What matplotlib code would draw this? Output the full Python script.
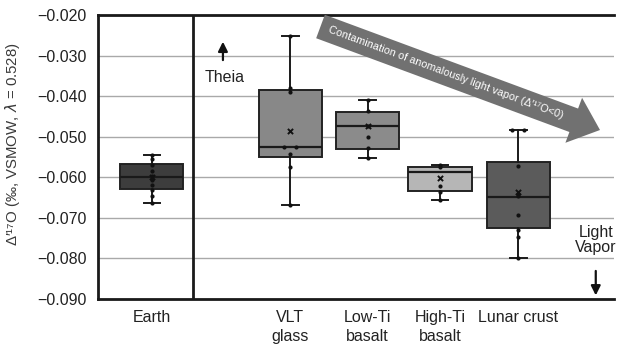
import matplotlib
matplotlib.use('Agg')
import matplotlib.pyplot as plt
from matplotlib.patches import FancyArrow
import numpy as np

plt.rcParams['font.family'] = ['Liberation Sans', 'DejaVu Sans']

# box statistics
groups = ['Earth', 'VLT\nglass', 'Low-Ti\nbasalt', 'High-Ti\nbasalt', 'Lunar crust']
q1 = [-0.0629, -0.0551, -0.0531, -0.0635, -0.0724]
q3 = [-0.0567, -0.0386, -0.0438, -0.0575, -0.0563]
med = [-0.0599, -0.0526, -0.0473, -0.0587, -0.0648]
whislo = [-0.0663, -0.0668, -0.0552, -0.0657, -0.0798]
whishi = [-0.0545, -0.0252, -0.0410, -0.0570, -0.0483]
means = [-0.0600, -0.0486, -0.0473, -0.0601, -0.0637]

# individual samples
earth_pts = [-0.0545, -0.0556, -0.0570, -0.0584, -0.0596, -0.0606, -0.0618, -0.0631, -0.0646, -0.0663]
vlt_pts = [-0.0252, -0.0380, -0.0389, -0.0526, -0.0526, -0.0543, -0.0574, -0.0668]
vlt_dx = [0, 0, 0, -0.08, 0.08, 0, 0, 0]
lowti_pts = [-0.0410, -0.0437, -0.0473, -0.0500, -0.0529, -0.0552]
highti_pts = [-0.0570, -0.0574, -0.0621, -0.0637, -0.0657]
crust_pts = [-0.0483, -0.0483, -0.0572, -0.0640, -0.0645, -0.0694, -0.0730, -0.0748, -0.0798]
crust_dx = [-0.08, 0.08, 0, 0, 0, 0, 0, 0, 0]

yticks = [-0.090, -0.080, -0.070, -0.060, -0.050, -0.040, -0.030, -0.020]

# layout
pos = [0, 1.82, 2.84, 3.79, 4.82]
face = ['#3d3d3d', '#888888', '#8b8b8b', '#b6b6b6', '#5b5b5b']

fig = plt.figure(figsize=(6.23, 3.44), dpi=100)
ax = fig.add_axes([98 / 623, 45 / 344, 516 / 623, 284 / 344])

stats = []
for i in range(len(groups)):
    stats.append(dict(label=groups[i], med=med[i], q1=q1[i], q3=q3[i],
                      whislo=whislo[i], whishi=whishi[i], mean=means[i], fliers=[]))

bp = ax.bxp(stats, positions=pos, widths=0.83, capwidths=0.22, patch_artist=True,
            showfliers=False,
            boxprops=dict(edgecolor='#222222', linewidth=1.4),
            medianprops=dict(color='#1a1a1a', linewidth=1.6),
            whiskerprops=dict(color='#1a1a1a', linewidth=1.4),
            capprops=dict(color='#1a1a1a', linewidth=1.4))
for patch, c in zip(bp['boxes'], face):
    patch.set_facecolor(c)
    patch.set_zorder(2)
for k in ['medians', 'whiskers', 'caps']:
    for ln in bp[k]:
        ln.set_zorder(3)

pts_all = [earth_pts, vlt_pts, lowti_pts, highti_pts, crust_pts]
dx_all = [None, vlt_dx, None, None, crust_dx]
for i, pts in enumerate(pts_all):
    dx = np.zeros(len(pts)) if dx_all[i] is None else np.array(dx_all[i])
    ax.scatter(pos[i] + dx, pts, s=9, color='#111111', zorder=4, linewidths=0)
    ax.scatter(pos[i], means[i], s=14, marker='x', color='#111111', zorder=5, linewidths=1.4)

ax.set_xlim(-0.71, 6.08)
ax.set_ylim(-0.090, -0.020)
ax.set_yticks(yticks)
ax.set_yticklabels(['\u2212%.3f' % abs(v) for v in yticks], fontsize=11.5, color='#222222')
ax.set_xticks(pos)
ax.set_xticklabels(groups, fontsize=11.5, color='#222222', linespacing=1.3)
ax.tick_params(axis='both', length=0)
ax.tick_params(axis='y', pad=8)
ax.tick_params(axis='x', pad=8)

ax.yaxis.grid(True, color='#a9a9a9', linewidth=1.0)
ax.set_axisbelow(True)
ax.spines['right'].set_visible(False)
for s in ['top', 'left', 'bottom']:
    ax.spines[s].set_linewidth(2)
    ax.spines[s].set_color('#1a1a1a')
ax.axvline(0.54, color='#1a1a1a', linewidth=2, zorder=3)

ax.set_ylabel("\u0394\u2032\u00b9\u2077O (\u2030, VSMOW, $\\lambda$ = 0.528)", fontsize=10.8,
              color='#3a3a3a')
ax.yaxis.set_label_coords(-0.148, 0.545)

# Theia arrow
ax.annotate('', xy=(0.934, -0.0259), xytext=(0.934, -0.0318),
            arrowprops=dict(arrowstyle='-|>', color='#111111', lw=1.6, mutation_scale=14))
ax.text(0.95, -0.0355, 'Theia', ha='center', va='center', fontsize=11.5, color='#222222')

# light vapor arrow
ax.text(5.84, -0.0755, 'Light\nVapor', ha='center', va='center', fontsize=11.5,
        color='#222222', linespacing=1.05)
ax.annotate('', xy=(5.84, -0.0898), xytext=(5.84, -0.0824),
            arrowprops=dict(arrowstyle='-|>', color='#111111', lw=1.6, mutation_scale=14))

# big contamination arrow (in inches so it keeps its shape)
arr = FancyArrow(3.205, 3.175, 2.795, -1.035, width=0.25, head_width=0.48,
                 head_length=0.28, length_includes_head=True,
                 transform=fig.dpi_scale_trans, color='#717171', zorder=6, linewidth=0)
ax.add_patch(arr)
arr.set_clip_box(ax.bbox)
ax.text(4.46, 2.71, "Contamination of anomalously light vapor (\u0394\u2032\u00b9\u2077O<0)",
        transform=fig.dpi_scale_trans, rotation=-20.3, rotation_mode='anchor',
        ha='center', va='center', fontsize=7.8, color='white', zorder=7)

fig.savefig('out.png', dpi=100)
